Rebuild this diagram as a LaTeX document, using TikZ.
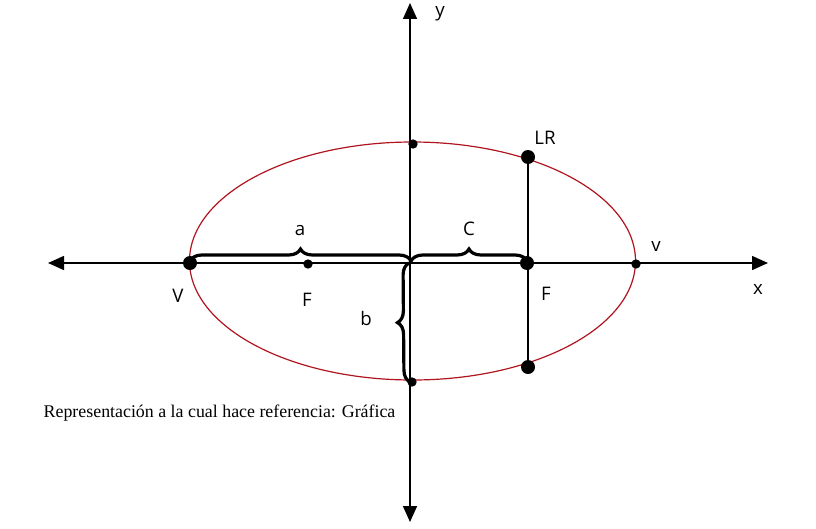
\documentclass[tikz,border=0pt]{standalone}
\usepackage{fontspec}
\setmainfont{Liberation Serif}
\newfontfamily\lblfont{Open Sans}
\usepackage{xcolor}
\usetikzlibrary{arrows.meta,decorations.pathreplacing}
\definecolor{elred}{HTML}{B0141E}
\tikzset{
  axis/.style={line width=1.1pt, {Triangle[length=12pt,width=10.5pt]}-{Triangle[length=12pt,width=10.5pt]}},
  bigdot/.style={circle, fill=black, inner sep=0pt, minimum size=10.5pt},
  smalldot/.style={circle, fill=black, inner sep=0pt, minimum size=7pt},
  lbl/.style={font=\lblfont\fontsize{14}{16}\selectfont},
  brc/.style={decorate, decoration={brace, amplitude=9pt, raise=1.5pt}, line width=2.4pt, line cap=round},
}

\begin{document}
\begin{tikzpicture}[x=0.75pt,y=-0.75pt]
\useasboundingbox (0,0) rectangle (816,528);
% --- ellipse
\draw[elred, line width=0.9pt] (412.5,261) ellipse [x radius=223, y radius=119];

% --- axes
\coordinate (xl) at (48,263);
\coordinate (xr) at (768,263);
\coordinate (yt) at (410,3);
\coordinate (yb) at (410,522);
\coordinate (O) at (411,263);
\draw[axis] (xl) -- (xr);
\draw[axis] (yb) -- (yt);

% --- points
\node[bigdot] (V) at (190,263) {};
\node[smalldot] (F1) at (308,264) {};
\node[bigdot] (F2) at (527,263) {};
\node[smalldot] (v) at (636,264) {};
\node[smalldot] (B1) at (413,144) {};
\node[smalldot] (B2) at (412,382) {};
\node[bigdot] (LR1) at (528,157) {};
\node[bigdot] (LR2) at (528,367) {};
\draw[line width=1.1pt] (LR1) -- (LR2);

% --- braces
\draw[brc] (V.center) -- (O);
\draw[brc] (O) -- (F2.center);
\draw[brc] (B2.center) -- (O);

% --- labels
\node[lbl] at (440,14) {y};
\node[lbl] at (545,138) {LR};
\node[lbl] at (300,231) {a};
\node[lbl] at (469,229) {C};
\node[lbl] at (656,247) {v};
\node[lbl] at (758,290) {x};
\node[lbl] at (178,296) {V};
\node[lbl] at (307,300) {F};
\node[lbl] at (546,294) {F};
\node[lbl] at (366,318) {b};
\node[anchor=west, font=\fontsize{13.4}{16}\selectfont] at (39,413) {Representación a la cual hace referencia: Gráfica};
\end{tikzpicture}
\end{document}
